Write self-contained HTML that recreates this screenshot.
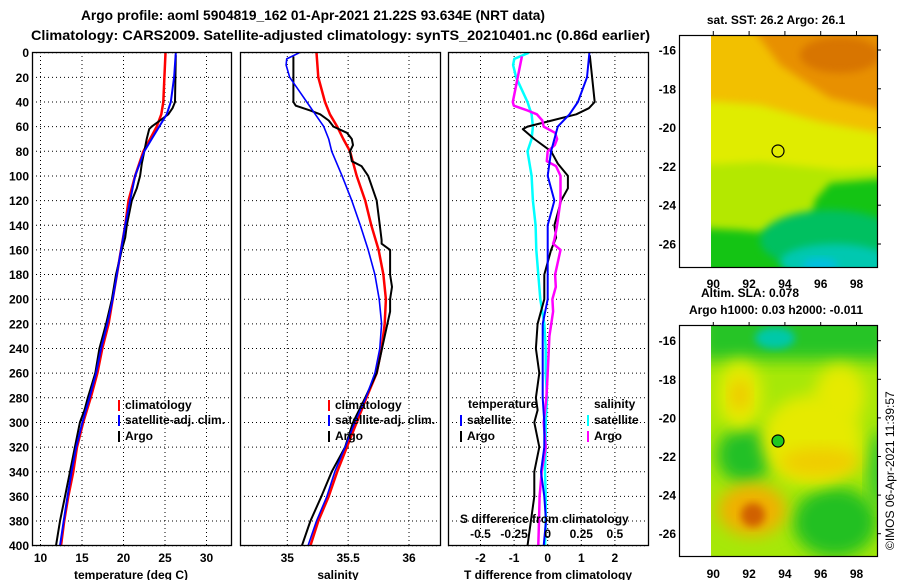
<!DOCTYPE html>
<html><head><meta charset="utf-8"><style>
html,body{margin:0;padding:0;background:#fff;}
svg{display:block;font-family:"Liberation Sans",Arial,sans-serif;font-weight:bold;}
</style></head><body>
<svg id="chart" width="900" height="580" viewBox="0 0 900 580" xmlns="http://www.w3.org/2000/svg">
<defs>
<filter id="blur6" x="-30%" y="-30%" width="160%" height="160%"><feGaussianBlur stdDeviation="8"/></filter>
<filter id="blur4" x="-20%" y="-20%" width="140%" height="140%"><feGaussianBlur stdDeviation="4"/></filter>
<clipPath id="clip1"><rect x="711" y="35" width="166" height="232"/></clipPath>
<clipPath id="clip2"><rect x="711" y="326" width="166" height="231"/></clipPath>
<clipPath id="cp1"><rect x="32" y="52" width="199" height="494"/></clipPath>
<clipPath id="cp2"><rect x="240" y="52" width="200" height="494"/></clipPath>
<clipPath id="cp3"><rect x="448" y="52" width="200" height="494"/></clipPath>
</defs>
<g>
<text x="81" y="20" font-size="14" textLength="464" lengthAdjust="spacingAndGlyphs">Argo profile: aoml 5904819_162 01-Apr-2021 21.22S 93.634E (NRT data)</text>
<text x="31" y="40" font-size="14" textLength="619" lengthAdjust="spacingAndGlyphs">Climatology: CARS2009. Satellite-adjusted climatology: synTS_20210401.nc (0.86d earlier)</text>
</g>
<!-- SST map -->
<g>
<text x="776" y="24" font-size="12" text-anchor="middle">sat. SST: 26.2 Argo: 26.1</text>
<g clip-path="url(#clip1)">
<rect x="711" y="35" width="166" height="232" fill="#14c414"/>
<polygon filter="url(#blur4)" fill="#b4e800" points="700,25 890,25 890,178 830,183 815,200 810,228 780,234 740,230 700,228"/>
<polygon filter="url(#blur4)" fill="#e0ec00" points="700,25 890,25 890,168 840,170 800,166 760,162 700,165"/>
<polygon filter="url(#blur4)" fill="#f2c000" points="700,25 890,25 890,135 820,122 760,105 700,100"/>
<polygon filter="url(#blur4)" fill="#e89000" points="750,25 890,25 890,112 830,98 780,65"/>
<ellipse filter="url(#blur4)" fill="#d87400" cx="840" cy="55" rx="40" ry="18"/>
<ellipse filter="url(#blur4)" fill="#00c060" cx="830" cy="240" rx="70" ry="30"/>
<ellipse filter="url(#blur4)" fill="#00c8b0" cx="835" cy="262" rx="55" ry="18"/>
<ellipse filter="url(#blur4)" fill="#00c0e0" cx="820" cy="265" rx="18" ry="7"/>
</g>
<rect x="679.5" y="35.5" width="198" height="232" fill="none" stroke="#000" stroke-width="1.2"/>
<circle cx="778" cy="151" r="6" fill="none" stroke="#000" stroke-width="1.2"/>
</g>
<!-- SLA map -->
<g>
<text x="750" y="297" font-size="12" text-anchor="middle">Altim. SLA: 0.078</text>
<text x="776" y="314" font-size="12" text-anchor="middle">Argo h1000: 0.03 h2000: -0.011</text>
<g clip-path="url(#clip2)">
<rect x="711" y="326" width="166" height="231" fill="#a6e808"/>
<rect filter="url(#blur6)" x="700" y="310" width="190" height="50" fill="#28c428"/>
<ellipse filter="url(#blur4)" fill="#00c8a8" cx="775" cy="338" rx="20" ry="11"/>
<ellipse filter="url(#blur6)" fill="#20c028" cx="745" cy="455" rx="28" ry="28"/>
<ellipse filter="url(#blur6)" fill="#20c024" cx="835" cy="522" rx="42" ry="35"/>
<ellipse filter="url(#blur6)" fill="#30c830" cx="878" cy="470" rx="10" ry="40"/>
<ellipse filter="url(#blur6)" fill="#e4ec00" cx="740" cy="395" rx="22" ry="34"/>
<ellipse filter="url(#blur6)" fill="#f0c400" cx="740" cy="395" rx="9" ry="16"/>
<ellipse filter="url(#blur6)" fill="#e6ea00" cx="812" cy="440" rx="50" ry="45"/>
<ellipse filter="url(#blur6)" fill="#e6ea00" cx="840" cy="395" rx="25" ry="30"/>
<ellipse filter="url(#blur6)" fill="#f0cc00" cx="820" cy="462" rx="40" ry="14"/>
<ellipse filter="url(#blur6)" fill="#f0b000" cx="752" cy="510" rx="34" ry="26"/>
<ellipse filter="url(#blur4)" fill="#d06000" cx="753" cy="515" rx="12" ry="12"/>
</g>
<rect x="679.5" y="325.5" width="198" height="231" fill="none" stroke="#000" stroke-width="1.2"/>
<circle cx="778" cy="441" r="6" fill="#20c820" stroke="#000" stroke-width="1.2"/>
<text transform="translate(894,550) rotate(-90)" font-size="12" font-weight="normal">©IMOS 06-Apr-2021 11:39:57</text>
</g>
<g id="plots"></g>
</svg>
<script>
// ---- data ----
const tClimDepth = [0,40,50,60,70,80,100,120,140,160,180,200,220,240,260,280,300,320,340,360,380,400];
const tClim = [25.06,24.8,24.55,24.0,23.2,22.4,21.4,20.6,20.2,19.7,19.2,18.7,18.2,17.45,16.85,16.05,15.15,14.4,13.95,13.35,12.85,12.47];
const tSatDepth = [0,20,40,50,60,70,80,100,120,140,160,180,200,220,240,260,280,300,320,340,360,380,400];
const tSat = [26.3,26.1,25.7,25.2,24.3,23.4,22.5,21.4,20.8,20.2,19.7,19.2,18.7,18.05,17.3,16.7,15.9,15.05,14.3,13.75,13.25,12.8,12.35];
const tArgoDepth = [2,40,45,50,55,60,62,70,80,90,100,110,120,140,150,160,180,200,220,240,260,280,290,300,320,340,360,380,400];
const tArgo = [26.3,26.2,25.9,25.4,24.4,23.4,23.1,22.8,22.5,22.2,22.0,21.6,21.0,20.4,20.2,19.8,19.1,18.6,17.9,17.1,16.6,15.7,15.3,14.75,14.15,13.55,12.95,12.35,11.87];
const sClimDepth = [0,20,40,50,60,70,80,100,120,140,160,180,200,220,240,260,280,300,320,340,360,380,400];
const sClim = [35.24,35.255,35.31,35.35,35.41,35.46,35.515,35.57,35.64,35.69,35.75,35.79,35.81,35.80,35.775,35.735,35.65,35.57,35.49,35.41,35.34,35.255,35.19];
const sSatDepth = [0,5,10,20,30,40,50,60,70,80,100,120,140,160,180,200,220,240,260,280,300,320,340,360,380,400];
const sSat = [35.10,34.995,34.99,35.02,35.09,35.16,35.23,35.30,35.34,35.365,35.45,35.53,35.60,35.665,35.72,35.755,35.775,35.76,35.72,35.645,35.555,35.475,35.39,35.325,35.24,35.17];
const sArgoDepth = [3,40,43,47,50,55,60,65,70,75,80,88,92,100,120,140,152,155,160,180,190,200,210,230,260,280,300,320,340,360,380,400];
const sArgo = [35.05,35.05,35.07,35.19,35.27,35.34,35.38,35.49,35.53,35.54,35.515,35.53,35.61,35.665,35.735,35.76,35.775,35.775,35.845,35.845,35.86,35.845,35.845,35.80,35.735,35.64,35.54,35.475,35.365,35.28,35.19,35.12];
const depthTicks = [0,20,40,60,80,100,120,140,160,180,200,220,240,260,280,300,320,340,360,380,400];
const tTicks = [10,15,20,25,30];
const sTicks = [35,35.5,36];
const dTTicks = [-2,-1,0,1,2];
const dSTicks = [-0.5,-0.25,0,0.25,0.5];
const dSTickLabels = ['-0.5','-0.25','0','0.25','0.5'];
const mapLonTicks = [90,92,94,96,98];
const mapLatTicks = [-16,-18,-20,-22,-24,-26];

// ---- scales ----
const yD = d => 52.7 + d*1.2325;
const xT = t => 40.5 + (t-10)*8.3;
const xS = s => 287.3 + (s-35)*121.7;
const xDT = v => 547.7 + v*33.6;
const xDS = v => 547.7 + v*134.4;
const xLon = l => 713.3 + (l-90)*17.9;
const yLat1 = l => 50 + (-16-l)*19.4;
const yLat2 = l => 340.7 + (-16-l)*19.3;

const NS='http://www.w3.org/2000/svg';
const root=document.getElementById('plots');
function mk(tag,attrs,parent){const e=document.createElementNS(NS,tag);for(const k in attrs)e.setAttribute(k,attrs[k]);(parent||root).appendChild(e);return e;}
function interp(ds,vs,d){if(d<=ds[0])return vs[0];for(let i=1;i<ds.length;i++){if(d<=ds[i]){const f=(d-ds[i-1])/(ds[i]-ds[i-1]);return vs[i-1]+f*(vs[i]-vs[i-1]);}}return vs[vs.length-1];}
function txt(s,x,y,anchor,size,parent,name){const e=mk('text',{x:x,y:y,'text-anchor':anchor,'font-size':size},parent);e.textContent=s;return e;}
function line(ds,vs,xf,color,w,parent,name){const pts=ds.map((d,i)=>xf(vs[i]).toFixed(1)+','+yD(d).toFixed(1)).join(' ');const p=mk('polyline',{points:pts,fill:'none',stroke:color,'stroke-width':w,'stroke-linejoin':'round'},parent);return p;}

const panels=[{x:32,w:199,clip:'cp1',name:'temperature-panel'},{x:240,w:200,clip:'cp2',name:'salinity-panel'},{x:448,w:200,clip:'cp3',name:'difference-panel'}];
const groups=[];
panels.forEach((p,pi)=>{
  const g=mk('g',{});
  
  
  groups.push(g);
  depthTicks.forEach(d=>{const l=mk('line',{x1:p.x,x2:p.x+p.w,y1:yD(d),y2:yD(d),stroke:'#000','stroke-width':1,'stroke-dasharray':'1,3'},g);});
  const xt = pi===0?tTicks.map(xT):pi===1?sTicks.map(xS):dTTicks.map(xDT);
  xt.forEach(x=>{const l=mk('line',{x1:x,x2:x,y1:52,y2:546,stroke:'#000','stroke-width':1,'stroke-dasharray':'1,3'},g);});
});
depthTicks.forEach(d=>txt(String(d),29,yD(d)+4.5,'end',12,groups[0],'depth-tick-label'));
tTicks.forEach(t=>txt(String(t),xT(t),562,'middle',12,groups[0],'temperature-tick-label'));
sTicks.forEach(s=>txt(String(s),xS(s),562,'middle',12,groups[1],'salinity-tick-label'));
dTTicks.forEach(v=>txt(String(v),xDT(v),562,'middle',12,groups[2],'t-diff-tick-label'));
txt('temperature (deg C)',131,579,'middle',12,groups[0],'temperature-axis-title');
txt('salinity',338,579,'middle',12,groups[1],'salinity-axis-title');
txt('T difference from climatology',548,579,'middle',12,groups[2],'t-diff-axis-title');

const c1=mk('g',{'clip-path':'url(#cp1)'},groups[0]);
line(tClimDepth,tClim,xT,'#ff0000',2.5,c1,'temperature-climatology-line');
line(tArgoDepth,tArgo,xT,'#000000',2,c1,'temperature-argo-line');
line(tSatDepth,tSat,xT,'#0000ff',2,c1,'temperature-satellite-line');
const c2=mk('g',{'clip-path':'url(#cp2)'},groups[1]);
line(sClimDepth,sClim,xS,'#ff0000',2.5,c2,'salinity-climatology-line');
line(sArgoDepth,sArgo,xS,'#000000',2,c2,'salinity-argo-line');
line(sSatDepth,sSat,xS,'#0000ff',1.6,c2,'salinity-satellite-line');
const c3=mk('g',{'clip-path':'url(#cp3)'},groups[2]);
const dSS=sSatDepth.map((d,i)=>sSat[i]-interp(sClimDepth,sClim,d));
const dSA=sArgoDepth.map((d,i)=>sArgo[i]-interp(sClimDepth,sClim,d));
const dTS=tSatDepth.map((d,i)=>tSat[i]-interp(tClimDepth,tClim,d));
const dTA=tArgoDepth.map((d,i)=>tArgo[i]-interp(tClimDepth,tClim,d));
line(sSatDepth,dSS,xDS,'#00ffff',2.5,c3,'salinity-satellite-diff-line');
line(tArgoDepth,dTA,xDT,'#000000',2,c3,'temperature-argo-diff-line');
line(sArgoDepth,dSA,xDS,'#ff00ff',2.5,c3,'salinity-argo-diff-line');
line(tSatDepth,dTS,xDT,'#0000ff',2,c3,'temperature-satellite-diff-line');
txt('S difference from climatology',460,523,'start',12,groups[2],'s-diff-axis-title');
dSTicks.forEach((v,i)=>txt(dSTickLabels[i],xDS(v),538,'middle',12,groups[2],'s-diff-tick-label'));

panels.forEach((p,pi)=>{const r=mk('rect',{x:p.x+0.5,y:52.5,width:p.w,height:493,fill:'none',stroke:'#000','stroke-width':1.3},groups[pi]);});

function legendEntry(x,y,color,label,parent,name){const g=mk('g',{},parent);mk('line',{x1:x,x2:x,y1:y-9,y2:y+2,stroke:color,'stroke-width':2},g);const t=mk('text',{x:x+6,y:y,'font-size':12},g);t.textContent=label;}
[[119,'legend-temperature'],[329,'legend-salinity']].forEach(([x,n],i)=>{
  legendEntry(x,409,'#ff0000','climatology',groups[i],n+'-climatology');
  legendEntry(x,424,'#0000ff','satellite-adj. clim.',groups[i],n+'-satellite');
  legendEntry(x,440,'#000000','Argo',groups[i],n+'-argo');
});
txt('temperature',468,408,'start',12,groups[2],'diff-legend-temperature-header');
legendEntry(461,424,'#0000ff','satellite',groups[2],'diff-legend-t-satellite');
legendEntry(461,440,'#000000','Argo',groups[2],'diff-legend-t-argo');
txt('salinity',594,408,'start',12,groups[2],'diff-legend-salinity-header');
legendEntry(588,424,'#00ffff','satellite',groups[2],'diff-legend-s-satellite');
legendEntry(588,440,'#ff00ff','Argo',groups[2],'diff-legend-s-argo');

const mg=mk('g',{});


[[35,267,yLat1,288,'sst'],[326,557,yLat2,578,'sla']].forEach(([top,bot,yl,ly,n])=>{
  mapLonTicks.forEach(l=>{const x=xLon(l);mk('line',{x1:x,x2:x,y1:top-4,y2:top,stroke:'#000','stroke-width':1},mg);txt(String(l),x,ly,'middle',12,mg,n+'-lon-label');});
  mapLatTicks.forEach(l=>{const y=yl(l);mk('line',{x1:877,x2:881,y1:y,y2:y,stroke:'#000','stroke-width':1},mg);txt(String(l),676,y+4.5,'end',12,mg,n+'-lat-label');});
});
</script>
</body></html>
